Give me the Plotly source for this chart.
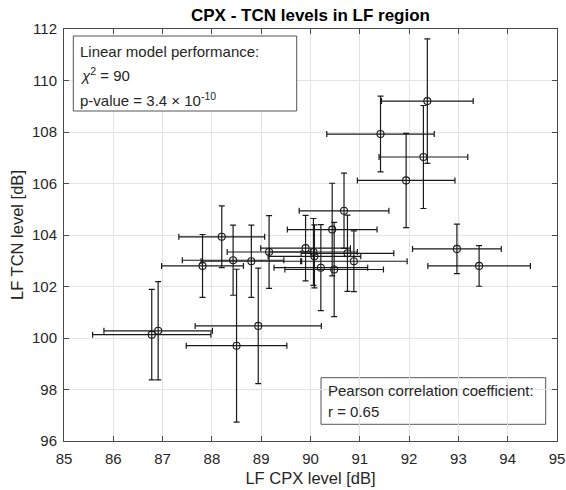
import plotly.graph_objects as go

# CPX level (x), TCN level (y) and their symmetric uncertainties
cpx_level = [88.20, 87.81, 88.43, 88.80, 89.16, 86.91, 86.78, 88.94, 88.50,
             89.90, 90.06, 90.08, 90.68, 90.44, 90.75, 90.88, 90.21, 90.48,
             92.97, 93.42, 92.37, 91.42, 92.29, 91.94]
tcn_level = [103.93, 102.80, 103.02, 102.98, 103.34, 100.28, 100.13, 100.47, 99.70,
             103.49, 103.34, 103.17, 104.94, 104.21, 103.29, 102.98, 102.73, 102.66,
             103.46, 102.80, 109.20, 107.92, 107.03, 106.12]
cpx_err = [0.87, 0.83, 1.03, 1.02, 0.85, 1.10, 1.20, 1.28, 1.02,
           0.91, 0.89, 0.94, 0.91, 0.91, 0.94, 1.08, 0.95, 1.00,
           0.90, 1.04, 0.93, 1.09, 0.90, 0.99]
tcn_err = [1.20, 1.22, 1.36, 1.40, 1.41, 1.91, 1.76, 2.24, 2.97,
           1.27, 1.30, 1.22, 1.46, 1.80, 1.48, 1.18, 1.67, 1.83,
           0.96, 0.79, 2.42, 1.47, 2.00, 1.83]

x_ticks = [85, 86, 87, 88, 89, 90, 91, 92, 93, 94, 95]
y_ticks = [96, 98, 100, 102, 104, 106, 108, 110, 112]

title_text = "CPX - TCN levels in LF region"
x_label = "LF CPX level [dB]"
y_label = "LF TCN level [dB]"
box1_lines = ["Linear model performance:",
              "<i>χ</i><sup>2</sup> = 90",
              "p-value = 3.4 × 10<sup>-10</sup>"]
box2_lines = ["Pearson correlation coefficient:", "r = 0.65"]

FONT = "Liberation Sans, Arial, Helvetica, sans-serif"
INK = "#262626"

fig = go.Figure()
fig.add_trace(go.Scatter(
    x=cpx_level, y=tcn_level, mode="markers",
    marker=dict(symbol="circle-open", size=7, color="#1a1a1a", line=dict(width=1.1, color="#1a1a1a")),
    error_x=dict(type="data", array=cpx_err, visible=True, color="#1a1a1a", thickness=1.2, width=3),
    error_y=dict(type="data", array=tcn_err, visible=True, color="#1a1a1a", thickness=1.2, width=3),
    showlegend=False,
))

axis_common = dict(
    showgrid=True, gridcolor="#e3e3e3", gridwidth=1,
    showline=True, linecolor="#4a4a4a", linewidth=1, mirror="allticks",
    ticks="inside", ticklen=5, tickcolor="#4a4a4a", tickwidth=1,
    tickfont=dict(family=FONT, size=15, color=INK),
    zeroline=False, automargin=False,
)

fig.update_layout(
    width=566, height=490,
    margin=dict(l=64, r=9, t=29, b=49),
    paper_bgcolor="white", plot_bgcolor="white",
    font=dict(family=FONT, color=INK),
    title=dict(text="<b>" + title_text + "</b>", x=310.5 / 566, xanchor="center",
               y=(490 - 15.5) / 490, yanchor="middle", yref="container",
               font=dict(family=FONT, size=17, color="#000000")),
    xaxis=dict(range=[85, 95], tickvals=x_ticks, ticktext=[str(v) for v in x_ticks],
               ticklabelstandoff=4,
               title=dict(text=x_label, standoff=6, font=dict(family=FONT, size=16.5, color=INK)),
               **axis_common),
    yaxis=dict(range=[96, 112], tickvals=y_ticks, ticktext=[str(v) for v in y_ticks],
               ticklabelstandoff=3,
               title=dict(text=y_label, standoff=4, font=dict(family=FONT, size=16.5, color=INK)),
               **axis_common),
)

def px2paper_x(px):
    return (px - 64) / 493.0

def px2paper_y(py):
    return (441 - py) / 412.0

annotations = []
for line, py in zip(box1_lines, [51.7, 75, 99]):
    annotations.append(dict(text=line, x=px2paper_x(78), y=px2paper_y(py), xref="paper", yref="paper",
                            showarrow=False, xanchor="left", yanchor="middle",
                            font=dict(family=FONT, size=15, color=INK)))
for line, py in zip(box2_lines, [390.7, 411.7]):
    annotations.append(dict(text=line, x=px2paper_x(326), y=px2paper_y(py), xref="paper", yref="paper",
                            showarrow=False, xanchor="left", yanchor="middle",
                            font=dict(family=FONT, size=15, color=INK)))
fig.update_layout(annotations=annotations)

fig.add_shape(type="rect", xref="paper", yref="paper",
              x0=px2paper_x(73.3), x1=px2paper_x(296.7), y0=px2paper_y(111), y1=px2paper_y(36),
              line=dict(color="#555555", width=1), fillcolor="white", layer="above")
fig.add_shape(type="rect", xref="paper", yref="paper",
              x0=px2paper_x(321), x1=px2paper_x(545.7), y0=px2paper_y(424.3), y1=px2paper_y(377.7),
              line=dict(color="#555555", width=1), fillcolor="rgba(255,255,255,1)", layer="below")

fig.write_html("out.html")
